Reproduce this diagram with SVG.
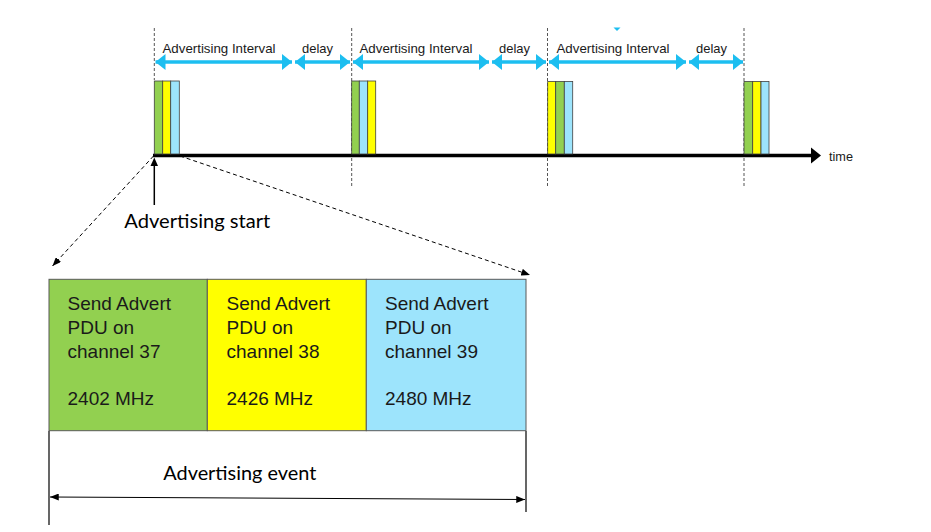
<svg xmlns="http://www.w3.org/2000/svg" width="931" height="532" viewBox="0 0 931 532">
<defs>
<style>
.lbl{font-family:"Liberation Sans",Arial,sans-serif;font-size:13px;fill:#1a1a1a}
.cell{font-family:"Liberation Sans",Arial,sans-serif;font-size:19px;fill:#1a1a1a}
.cal{font-family:Lato,"Liberation Sans",sans-serif;font-size:18.5px;fill:#000}
.vdash{stroke:#555;stroke-width:1;stroke-dasharray:3,2;fill:none}
.blue{stroke:#1CBEF0;stroke-width:3.5;fill:none}
.bar{stroke:#404040;stroke-width:0.8}
.g{fill:#92D050}.y{fill:#FFFF00}.b{fill:#9DE4FC}
.sl{stroke:#000;stroke-width:1;stroke-dasharray:4,3;fill:none}
</style>
<marker id="bh" viewBox="0 0 10 16" refX="10" refY="8" markerWidth="10" markerHeight="16" markerUnits="userSpaceOnUse" orient="auto-start-reverse">
<path d="M0,0 L10,8 L0,16 Z" fill="#1CBEF0"/>
</marker>
<marker id="kh" viewBox="0 0 10 8" refX="10" refY="4" markerWidth="9" markerHeight="7" markerUnits="userSpaceOnUse" orient="auto-start-reverse">
<path d="M0,0 L10,4 L0,8 Z" fill="#000"/>
</marker>
</defs>
<rect width="931" height="532" fill="#fff"/>

<g id="gridlines">
<line class="vdash" x1="154.3" y1="28" x2="154.3" y2="80"/>
<line class="vdash" x1="351.7" y1="28" x2="351.7" y2="186"/>
<line class="vdash" x1="547.5" y1="28" x2="547.5" y2="186"/>
<line class="vdash" x1="744" y1="28" x2="744" y2="186"/>
</g>

<g id="interval-labels">
<text class="lbl" x="162.5" y="52.5" textLength="113" lengthAdjust="spacingAndGlyphs">Advertising Interval</text>
<text class="lbl" x="302" y="52.5" textLength="31" lengthAdjust="spacingAndGlyphs">delay</text>
<text class="lbl" x="359.5" y="52.5" textLength="113" lengthAdjust="spacingAndGlyphs">Advertising Interval</text>
<text class="lbl" x="499" y="52.5" textLength="31" lengthAdjust="spacingAndGlyphs">delay</text>
<text class="lbl" x="556.5" y="52.5" textLength="113" lengthAdjust="spacingAndGlyphs">Advertising Interval</text>
<text class="lbl" x="696" y="52.5" textLength="31" lengthAdjust="spacingAndGlyphs">delay</text>
<polygon points="613.5,27.5 620.5,27.5 617,31" fill="#1CBEF0"/>
</g>

<g id="connectors">
<line class="blue" x1="155.5" y1="62" x2="292" y2="62" marker-start="url(#bh)" marker-end="url(#bh)"/>
<line class="blue" x1="295" y1="62" x2="350" y2="62" marker-start="url(#bh)" marker-end="url(#bh)"/>
<line class="blue" x1="353" y1="62" x2="489" y2="62" marker-start="url(#bh)" marker-end="url(#bh)"/>
<line class="blue" x1="492" y1="62" x2="546" y2="62" marker-start="url(#bh)" marker-end="url(#bh)"/>
<line class="blue" x1="549" y1="62" x2="686" y2="62" marker-start="url(#bh)" marker-end="url(#bh)"/>
<line class="blue" x1="689" y1="62" x2="743" y2="62" marker-start="url(#bh)" marker-end="url(#bh)"/>
<line x1="153" y1="155.5" x2="812" y2="155.5" stroke="#000" stroke-width="3.5"/>
<polygon points="811,147.5 821,155.5 811,163.5" fill="#000"/>
<line x1="154.3" y1="205" x2="154.3" y2="164" stroke="#000" stroke-width="1.5"/>
<polygon points="150.5,166 154.3,157.5 158,166" fill="#000"/>
<line class="sl" x1="153.5" y1="156" x2="52.5" y2="266" marker-end="url(#kh)"/>
<line class="sl" x1="180" y1="156" x2="530" y2="275" marker-end="url(#kh)"/>
<line x1="49" y1="431" x2="49" y2="525" stroke="#000" stroke-width="1.2"/>
<line x1="526" y1="431" x2="526" y2="512" stroke="#000" stroke-width="1.2"/>
<line x1="50" y1="497" x2="525" y2="499.5" stroke="#000" stroke-width="1" marker-start="url(#kh)" marker-end="url(#kh)"/>
</g>

<g id="burst1">
<rect class="bar g" x="154.3" y="81" width="8.4" height="73"/>
<rect class="bar y" x="162.7" y="81" width="8" height="73"/>
<rect class="bar b" x="170.7" y="81" width="8.6" height="73"/>
</g>
<g id="burst2">
<rect class="bar g" x="351.7" y="81" width="7.6" height="73"/>
<rect class="bar b" x="359.3" y="81" width="8.4" height="73"/>
<rect class="bar y" x="367.7" y="81" width="8" height="73"/>
</g>
<g id="burst3">
<rect class="bar y" x="547.7" y="81.5" width="8" height="72.5"/>
<rect class="bar g" x="555.7" y="81.5" width="8.6" height="72.5"/>
<rect class="bar b" x="564.3" y="81.5" width="8.4" height="72.5"/>
</g>
<g id="burst4">
<rect class="bar g" x="744" y="81.5" width="8.7" height="72.5"/>
<rect class="bar y" x="752.7" y="81.5" width="8.3" height="72.5"/>
<rect class="bar b" x="761" y="81.5" width="8" height="72.5"/>
</g>

<g id="time-label">
<text class="lbl" x="829" y="160.5" textLength="24" lengthAdjust="spacingAndGlyphs">time</text>
</g>

<g id="advertising-start">
<text class="cal" x="124.3" y="227.5" textLength="146" lengthAdjust="spacingAndGlyphs">Advertising start</text>
</g>

<g id="channel37">
<rect x="49" y="279.3" width="158.3" height="151.4" fill="#92D050" stroke="#595959" stroke-width="1"/>
<text class="cell" x="67.5" y="310">Send Advert</text>
<text class="cell" x="67.5" y="334">PDU on</text>
<text class="cell" x="67.5" y="358.3">channel 37</text>
<text class="cell" x="67.5" y="405">2402 MHz</text>
</g>
<g id="channel38">
<rect x="207.3" y="279.3" width="159" height="151.4" fill="#FFFF00" stroke="#595959" stroke-width="1"/>
<text class="cell" x="226.5" y="310">Send Advert</text>
<text class="cell" x="226.5" y="334">PDU on</text>
<text class="cell" x="226.5" y="358.3">channel 38</text>
<text class="cell" x="226.5" y="405">2426 MHz</text>
</g>
<g id="channel39">
<rect x="366.3" y="279.3" width="159.7" height="151.4" fill="#9DE4FC" stroke="#595959" stroke-width="1"/>
<text class="cell" x="385" y="310">Send Advert</text>
<text class="cell" x="385" y="334">PDU on</text>
<text class="cell" x="385" y="358.3">channel 39</text>
<text class="cell" x="385" y="405">2480 MHz</text>
</g>

<g id="advertising-event">
<text class="cal" x="163.3" y="480" textLength="153" lengthAdjust="spacingAndGlyphs">Advertising event</text>
</g>
</svg>
